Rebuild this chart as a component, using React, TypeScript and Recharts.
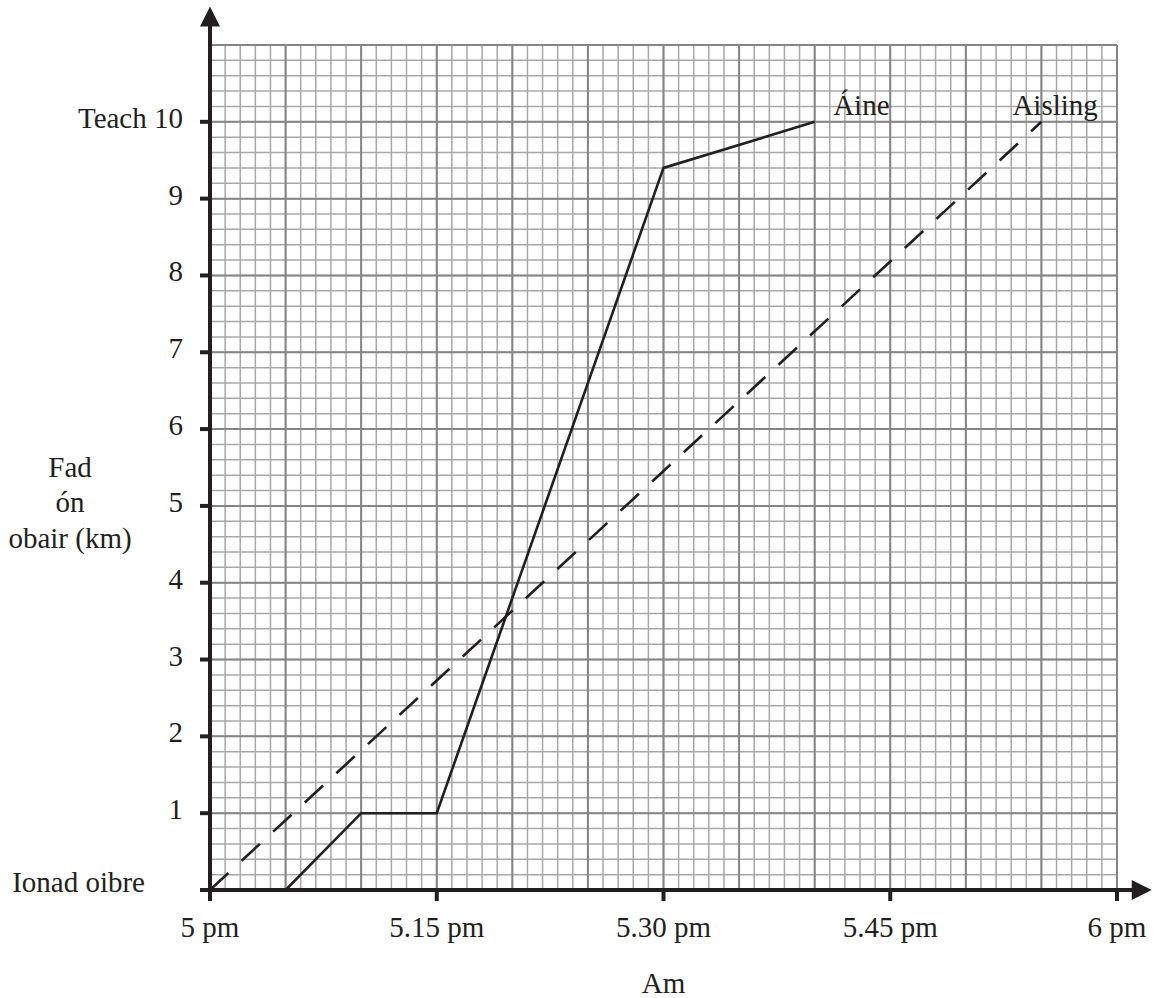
import React from "react";
import {
  LineChart,
  Line,
  XAxis,
  YAxis,
  CartesianGrid,
  ReferenceLine,
  LabelList,
} from "recharts";

// ---- data (minutes after 5 pm, km from work) ----
const aineTimes = [5, 10, 15, 30, 40];
const aineDistances = [0, 1, 1, 9.4, 10];
const aislingTimes = [0, 55];
const aislingDistances = [0, 10];
const seriesNames = ["Áine", "Aisling"];

const timeTicks = [0, 15, 30, 45, 60];
const timeTickLabels = ["5 pm", "5.15 pm", "5.30 pm", "5.45 pm", "6 pm"];
const distanceTicks = [0, 1, 2, 3, 4, 5, 6, 7, 8, 9, 10];
const distanceTickLabels = ["Ionad oibre", "1", "2", "3", "4", "5", "6", "7", "8", "9", "Teach 10"];
const majorTimeTicks = [0, 5, 10, 15, 20, 25, 30, 35, 40, 45, 50, 55, 60];
const minorTimeTicks = Array.from({ length: 61 }, (_, i) => i);
const majorDistanceTicks = [0, 1, 2, 3, 4, 5, 6, 7, 8, 9, 10, 11];
const minorDistanceTicks = Array.from({ length: 56 }, (_, i) => i / 5);

const timeDomain = [0, 60];
const distanceDomain = [0, 11];
const xArrowTip = 62.3;
const yArrowTip = 11.5;

const xTitle = "Am";
const yTitleLines = ["Fad", "ón", "obair (km)"];

const aineData = aineTimes.map((t, i) => ({ t, d: aineDistances[i] }));
const aislingData = aislingTimes.map((t, i) => ({ t, d: aislingDistances[i] }));

const FONT = "'Liberation Serif', 'Times New Roman', serif";
const INK = "#231f20";
const FS = 29;

const XTick = (props: any) => {
  const { x, y, payload } = props;
  const i = timeTicks.indexOf(payload.value);
  return (
    <text x={x} y={y} dy={36} textAnchor="middle" fill={INK} fontSize={FS} fontFamily={FONT}>
      {timeTickLabels[i]}
    </text>
  );
};

const YTick = (props: any) => {
  const { x, y, payload } = props;
  const i = distanceTicks.indexOf(payload.value);
  const isZero = i === 0;
  return (
    <text
      x={x}
      y={y}
      dx={isZero ? -55 : -17}
      dy={isZero ? 2 : 6}
      textAnchor="end"
      fill={INK}
      fontSize={FS}
      fontFamily={FONT}
    >
      {distanceTickLabels[i]}
    </text>
  );
};

const arrowShape = (p: any) => {
  const { x1, y1, x2, y2 } = p;
  const dx = x2 - x1;
  const dy = y2 - y1;
  const len = Math.sqrt(dx * dx + dy * dy) || 1;
  const ux = dx / len;
  const uy = dy / len;
  const head = 20;
  const half = 10;
  const bx = x2 - ux * head;
  const by = y2 - uy * head;
  const pts = `${x2},${y2} ${bx - uy * half},${by + ux * half} ${bx + uy * half},${by - ux * half}`;
  return (
    <g>
      <line x1={x1} y1={y1} x2={bx + ux * 2} y2={by + uy * 2} stroke={INK} strokeWidth={4} />
      <polygon points={pts} fill={INK} />
    </g>
  );
};

const nameLabel = (name: string, lastIndex: number, dx: number, dy: number) => (p: any) => {
  if (p.index !== lastIndex) return null;
  return (
    <text x={p.x + dx} y={p.y + dy} fill={INK} fontSize={FS} fontFamily={FONT} textAnchor="start">
      {name}
    </text>
  );
};

const YTitle = (p: any) => {
  const vb = p.viewBox || { x: 0, y: 45, width: 210, height: 845 };
  const cx = vb.x + vb.width / 3;
  const mid = vb.y + vb.height / 2;
  const offs = [9.5, 44.5, 80.5];
  return (
    <text fill={INK} fontSize={FS} fontFamily={FONT} textAnchor="middle">
      {yTitleLines.map((s, i) => (
        <tspan key={i} x={cx} y={mid + offs[i]}>
          {s}
        </tspan>
      ))}
    </text>
  );
};

const XTitle = (p: any) => {
  const vb = p.viewBox || { x: 210, y: 890, width: 907, height: 108 };
  return (
    <text
      x={vb.x + vb.width / 2}
      y={vb.y + 102.5}
      fill={INK}
      fontSize={FS}
      fontFamily={FONT}
      textAnchor="middle"
    >
      {xTitle}
    </text>
  );
};

export default function App() {
  return (
    <div style={{ position: "absolute", left: 0, top: 0, width: 1153, height: 998, background: "#fff" }}>
      <LineChart width={1153} height={998} margin={{ top: 45, right: 36, bottom: 0, left: 0 }}>
        <CartesianGrid
          xAxisId="t"
          yAxisId="d"
          verticalValues={minorTimeTicks}
          horizontalValues={minorDistanceTicks}
          stroke="#a8a8a8"
          strokeWidth={1.5}
          fill="none"
        />
        <CartesianGrid
          xAxisId="t"
          yAxisId="d"
          verticalValues={majorTimeTicks}
          horizontalValues={majorDistanceTicks}
          stroke="#858585"
          strokeWidth={2}
          fill="none"
        />
        <XAxis
          xAxisId="t"
          dataKey="t"
          type="number"
          domain={timeDomain}
          ticks={timeTicks}
          height={108}
          axisLine={{ stroke: INK, strokeWidth: 4 }}
          tickLine={{ stroke: INK, strokeWidth: 4 }}
          tickSize={11}
          tickMargin={0}
          tick={<XTick />}
          interval={0}
          label={{ content: XTitle }}
        />
        <YAxis
          yAxisId="d"
          dataKey="d"
          type="number"
          domain={distanceDomain}
          ticks={distanceTicks}
          width={210}
          axisLine={{ stroke: INK, strokeWidth: 4 }}
          tickLine={{ stroke: INK, strokeWidth: 4 }}
          tickSize={10}
          tickMargin={0}
          tick={<YTick />}
          interval={0}
          label={{ content: YTitle }}
        />

        <ReferenceLine
          xAxisId="t"
          yAxisId="d"
          segment={[{ x: timeDomain[0], y: distanceDomain[0] }, { x: xArrowTip, y: distanceDomain[0] }]}
          ifOverflow="visible"
          shape={arrowShape}
        />
        <ReferenceLine
          xAxisId="t"
          yAxisId="d"
          segment={[{ x: timeDomain[0], y: distanceDomain[0] }, { x: timeDomain[0], y: yArrowTip }]}
          ifOverflow="visible"
          shape={arrowShape}
        />

        <Line
          xAxisId="t"
          yAxisId="d"
          data={aislingData}
          dataKey="d"
          type="linear"
          stroke={INK}
          strokeWidth={2.6}
          strokeDasharray="25 18"
          dot={false}
          activeDot={false}
          isAnimationActive={false}
        >
          <LabelList dataKey="d" content={nameLabel(seriesNames[1], aislingData.length - 1, -29, -7)} />
        </Line>
        <Line
          xAxisId="t"
          yAxisId="d"
          data={aineData}
          dataKey="d"
          type="linear"
          stroke={INK}
          strokeWidth={2.6}
          dot={false}
          activeDot={false}
          isAnimationActive={false}
        >
          <LabelList dataKey="d" content={nameLabel(seriesNames[0], aineData.length - 1, 18.5, -7)} />
        </Line>
      </LineChart>
    </div>
  );
}
